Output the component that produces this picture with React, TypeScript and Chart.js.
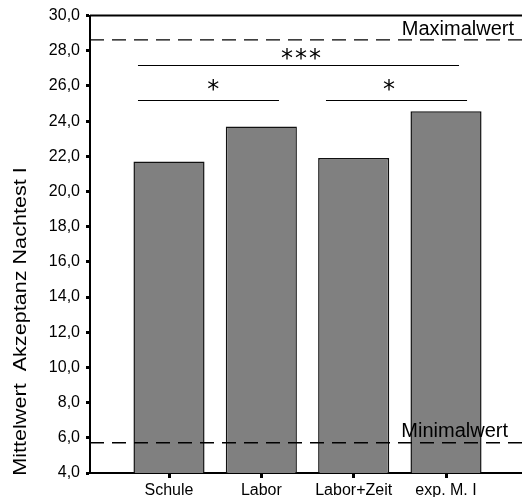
import React, { useEffect, useRef } from 'react';
import { Chart, registerables } from 'chart.js';

Chart.register(...registerables);

// ---- data ----
const categories = ['Schule', 'Labor', 'Labor+Zeit', 'exp. M. I'];
const positions = [1, 2, 3, 4];
const meanValues = [21.71, 23.7, 21.9, 24.57];
const yTicks = [4, 6, 8, 10, 12, 14, 16, 18, 20, 22, 24, 26, 28, 30];
const maxValue = 28.62;
const minValue = 5.72;
const maxLabel = 'Maximalwert';
const minLabel = 'Minimalwert';
const bracketFrom = [0.664, 0.664, 2.7];
const bracketTo = [4.141, 2.191, 4.228];
const bracketLevel = [27.2, 25.23, 25.23];
const bracketLabelX = [2.43, 1.48, 3.383];
const bracketLabelY = [27.83, 26.07, 26.07];
const bracketLabels = ['***', '*', '*'];
const yTitle = 'Mittelwert  Akzeptanz Nachtest I';

const FONT = '"Liberation Sans", Arial, Helvetica, sans-serif';

const overlay = {
  id: 'overlay',
  afterDatasetsDraw(chart: any) {
    const { ctx, chartArea: a, scales } = chart;
    const x = scales.x;
    const y = scales.y;
    ctx.save();
    ctx.strokeStyle = '#000';
    ctx.fillStyle = '#000';
    // top frame line
    ctx.lineWidth = 2;
    ctx.setLineDash([]);
    ctx.beginPath();
    ctx.moveTo(a.left, a.top);
    ctx.lineTo(a.right, a.top);
    ctx.stroke();
    // reference lines
    ctx.lineWidth = 1.3;
    ctx.setLineDash([14, 8]);
    [maxValue, minValue].forEach((v) => {
      const py = y.getPixelForValue(v);
      ctx.beginPath();
      ctx.moveTo(a.left, py);
      ctx.lineTo(a.right, py);
      ctx.stroke();
    });
    ctx.setLineDash([]);
    ctx.font = '20px ' + FONT;
    ctx.textAlign = 'right';
    ctx.textBaseline = 'alphabetic';
    ctx.fillText(maxLabel, a.right - 8, y.getPixelForValue(maxValue) - 5);
    ctx.fillText(minLabel, a.right - 14, y.getPixelForValue(minValue) - 6);
    // significance brackets
    ctx.lineWidth = 1;
    for (let i = 0; i < bracketLabels.length; i++) {
      const py = Math.round(y.getPixelForValue(bracketLevel[i])) + 0.5;
      ctx.beginPath();
      ctx.moveTo(x.getPixelForValue(bracketFrom[i]), py);
      ctx.lineTo(x.getPixelForValue(bracketTo[i]), py);
      ctx.stroke();
      ctx.font = '24px "DejaVu Sans", sans-serif';
      ctx.textAlign = 'center';
      ctx.textBaseline = 'alphabetic';
      const m = ctx.measureText('*');
      const cy = y.getPixelForValue(bracketLabelY[i]);
      const base = cy + (m.actualBoundingBoxAscent - m.actualBoundingBoxDescent) / 2;
      const n = bracketLabels[i].length;
      const cx = x.getPixelForValue(bracketLabelX[i]);
      const spacing = 14;
      for (let k = 0; k < n; k++) {
        const sx = cx + (k - (n - 1) / 2) * spacing;
        ctx.fillText('*', sx, base);
      }
    }
    ctx.restore();
  },
  afterDraw(chart: any) {
    const { ctx } = chart;
    ctx.save();
    ctx.translate(26, 321.5);
    ctx.rotate(-Math.PI / 2);
    ctx.scale(1.2, 1);
    ctx.font = '18px ' + FONT;
    ctx.fillStyle = '#000';
    ctx.textAlign = 'center';
    ctx.textBaseline = 'alphabetic';
    ctx.fillText(yTitle, 0, 0);
    ctx.restore();
  },
};

export default function App() {
  const ref = useRef<HTMLCanvasElement>(null);
  useEffect(() => {
    document.body.style.margin = '0';
    const canvas = ref.current!;
    const chart = new Chart(canvas, {
      type: 'bar',
      data: {
        datasets: [
          {
            data: positions.map((p, i) => ({ x: p, y: meanValues[i] })),
            backgroundColor: '#808080',
            borderColor: '#111',
            borderWidth: 1.5,
            borderSkipped: false,
            barPercentage: 0.77,
            categoryPercentage: 1,
          },
        ],
      },
      options: {
        responsive: false,
        animation: false,
        devicePixelRatio: 1,
        layout: { padding: { top: 15, right: 0, left: 0, bottom: 0 } },
        plugins: { legend: { display: false }, tooltip: { enabled: false } },
        scales: {
          x: {
            type: 'linear',
            offset: false,
            min: 0.1444,
            max: 4.823,
            afterBuildTicks: (s: any) => {
              s.ticks = positions.map((v) => ({ value: v }));
            },
            afterFit: (s: any) => {
              s.height = 24;
            },
            grid: {
              offset: false,
              drawOnChartArea: false,
              drawTicks: true,
              tickLength: 5,
              tickWidth: 3,
              tickColor: '#000',
            },
            border: { display: true, color: '#000', width: 2 },
            ticks: {
              autoSkip: false,
              maxRotation: 0,
              padding: 3,
              color: '#000',
              font: { family: FONT, size: 16 },
              callback: (v: any) => {
                const idx = positions.indexOf(Number(v));
                return idx >= 0 ? categories[idx] : '';
              },
            },
          },
          y: {
            type: 'linear',
            min: 4,
            max: 30,
            afterBuildTicks: (s: any) => {
              s.ticks = yTicks.map((v) => ({ value: v }));
            },
            afterFit: (s: any) => {
              s.width = 90;
            },
            grid: {
              drawOnChartArea: false,
              drawTicks: true,
              tickLength: 4,
              tickWidth: 3,
              tickColor: '#000',
            },
            border: { display: true, color: '#000', width: 2 },
            ticks: {
              padding: 6,
              color: '#000',
              font: { family: FONT, size: 16 },
              callback: (v: any) => Number(v).toFixed(1).replace('.', ','),
            },
          },
        },
      },
      plugins: [overlay],
    } as any);
    return () => chart.destroy();
  }, []);
  return (
    <div style={{ width: 522, height: 497 }}>
      <canvas ref={ref} width={522} height={497} />
    </div>
  );
}
